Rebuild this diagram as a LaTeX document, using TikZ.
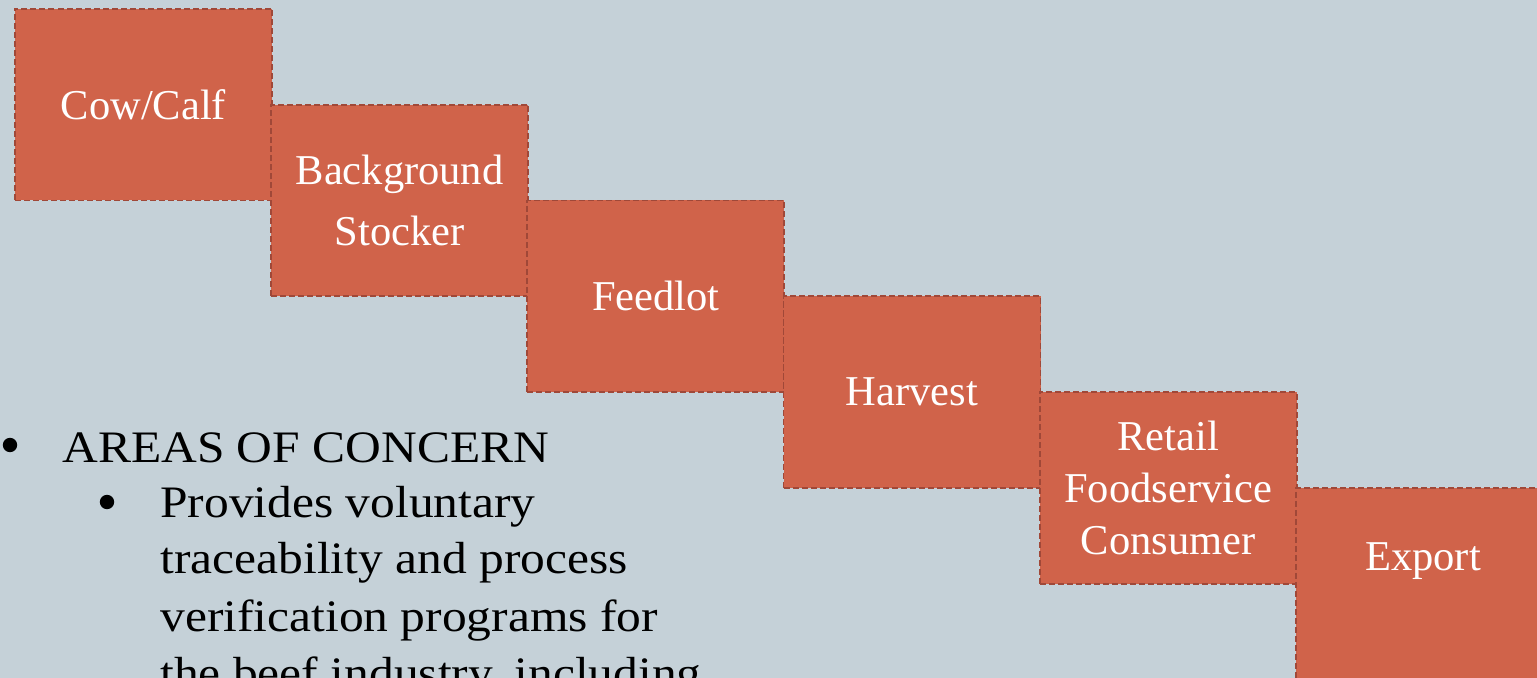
\documentclass[tikz,border=0pt]{standalone}
\usepackage{fontspec}
\setmainfont{Liberation Serif}
\newfontfamily\bodyfont[FakeStretch=1.1]{Liberation Serif}
\definecolor{slide}{RGB}{197,209,216}
\definecolor{rust}{RGB}{208,99,74}
\definecolor{rustedge}{RGB}{160,72,56}

\begin{document}
\begin{tikzpicture}[x=0.5pt, y=-0.5pt,
    stage/.style={draw=rustedge, fill=rust, line width=0.9pt, dash pattern=on 3pt off 1.5pt,
        minimum width=128.5pt, minimum height=95.8pt, inner sep=0pt, anchor=north west,
        text=white, align=center, font=\fontsize{21.25}{26}\selectfont},
    stagetext/.style={text=white, inner sep=0pt, font=\fontsize{21.25}{26}\selectfont},
    body/.style={anchor=base west, inner sep=0pt, font=\bodyfont\fontsize{22.5}{28.5}\selectfont},
    dot/.style={circle, fill=black, minimum size=7.2pt, inner sep=0pt}]
    \fill[slide] (0,0) rectangle (1537,678);
    \clip (0,0) rectangle (1537,678);

    % staircase of stages
    \foreach \lbl [count=\k from 0] in {Cow/Calf, {Background\\[4.5pt]Stocker}, Feedlot, Harvest, {Retail\\Foodservice\\Consumer}}
        \node[stage] (stage\k) at (14+256.2*\k, 8+95.8*\k) {\lbl};

    \node[stage, minimum height=110pt] (export) at (1295,487) {};
    \node[stagetext] (exportlabel) at (1423,561) {Export};

    % bullet list
    \node[dot] (bulletA) at (10,445) {};
    \node[body] (concern) at (62,463) {AREAS OF CONCERN};
    \node[dot] (bulletB) at (107,502) {};
    \foreach \t [count=\k from 0] in {Provides voluntary, traceability and process, verification programs for, {the beef industry, including}}
        \node[body] (line\k) at (160, 517+57*\k) {\t};
\end{tikzpicture}
\end{document}
